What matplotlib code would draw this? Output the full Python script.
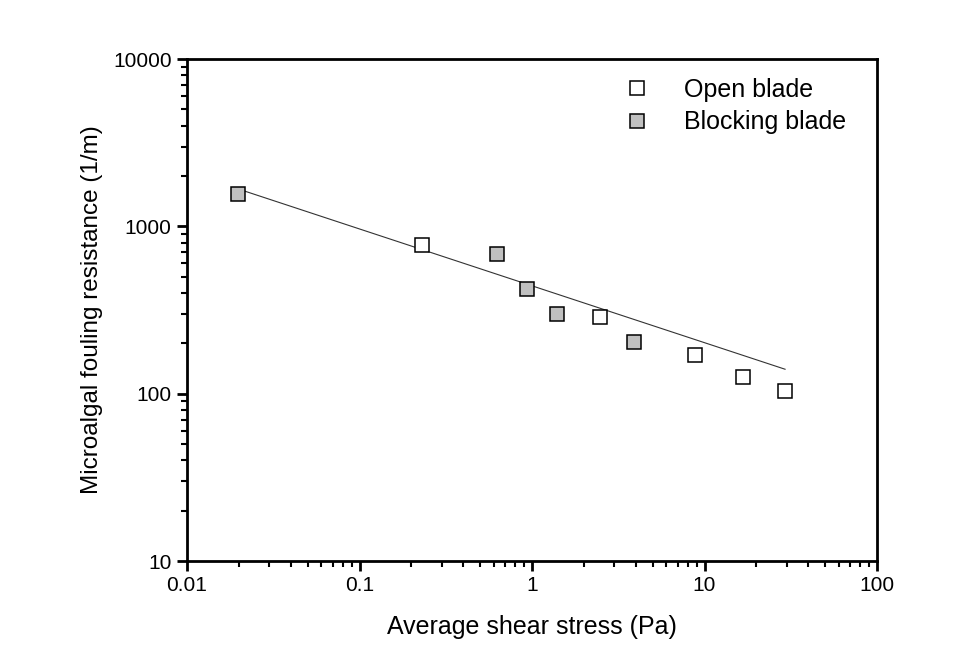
import matplotlib
matplotlib.use('Agg')
import matplotlib.pyplot as plt
from matplotlib.ticker import LogLocator, NullFormatter

plt.rcParams['font.family'] = ['Liberation Sans', 'DejaVu Sans']

# data
open_x = [0.23, 2.48, 8.8, 16.7, 29.3]
open_y = [774, 287, 170, 126, 104]
block_x = [0.0198, 0.627, 0.935, 1.40, 3.90]
block_y = [1560, 684, 422, 299, 204]
# fitted line end points
fit_x = [0.0198, 29.3]
fit_y = [1673, 140]

fig = plt.figure(figsize=(9.72, 6.56), dpi=100)
ax = fig.add_axes([0.1924, 0.1448, 0.7099, 0.7652])

ax.plot(fit_x, fit_y, color='#333333', lw=0.8, zorder=1)
ax.plot(open_x, open_y, 's', ms=10, mfc='white', mec='black', mew=1.1,
        linestyle='none', label='Open blade', zorder=3)
ax.plot(block_x, block_y, 's', ms=10, mfc='#c0c0c0', mec='black', mew=1.1,
        linestyle='none', label='Blocking blade', zorder=3)

ax.set_xscale('log')
ax.set_yscale('log')
ax.set_xlim(0.01, 100)
ax.set_ylim(10, 10000)

ax.set_xticks([0.01, 0.1, 1, 10, 100])
ax.set_xticklabels(['0.01', '0.1', '1', '10', '100'])
ax.set_yticks([10, 100, 1000, 10000])
ax.set_yticklabels(['10', '100', '1000', '10000'])
ax.xaxis.set_minor_locator(LogLocator(base=10, subs=range(2, 10)))
ax.yaxis.set_minor_locator(LogLocator(base=10, subs=range(2, 10)))
ax.xaxis.set_minor_formatter(NullFormatter())
ax.yaxis.set_minor_formatter(NullFormatter())

for s in ax.spines.values():
    s.set_linewidth(2)
ax.tick_params(which='major', direction='out', length=7, width=2, labelsize=15,
               top=False, right=False, pad=4)
ax.tick_params(which='minor', direction='out', length=4, width=1.5,
               top=False, right=False)

ax.set_xlabel('Average shear stress (Pa)', fontsize=18, labelpad=14)
ax.set_ylabel('Microalgal fouling resistance (1/m)', fontsize=17.5, labelpad=7)

ax.legend(loc='upper right', frameon=False, fontsize=18, handletextpad=0.9,
          labelspacing=0.35, bbox_to_anchor=(0.988, 1.008))

fig.savefig('out.png', dpi=100)
